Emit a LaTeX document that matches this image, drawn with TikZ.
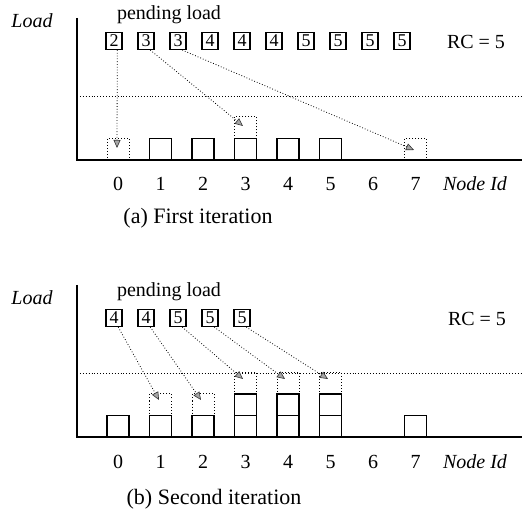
\documentclass[tikz,border=0pt]{standalone}
\usepackage{fontspec}
\setmainfont{Liberation Serif}
\usetikzlibrary{arrows.meta}
\begin{document}
\begin{tikzpicture}[x=1pt,y=-1pt,
  txt/.style={font=\fontsize{20}{24}\selectfont, inner sep=0pt},
  itxt/.style={font=\fontsize{20}{24}\selectfont\itshape, inner sep=0pt},
  captxt/.style={font=\fontsize{22}{26}\selectfont, inner sep=0pt},
  pend/.style={draw, line width=1.1pt, minimum width=16pt, minimum height=17pt, inner sep=0pt, font=\fontsize{18}{20}\selectfont},
  slot/.style={draw, line width=1.3pt, minimum width=22pt, minimum height=21.5pt, inner sep=0pt},
  newslot/.style={draw, line width=1pt, dotted, minimum width=22pt, minimum height=21.5pt, inner sep=0pt},
  axis/.style={line width=1.4pt},
  capline/.style={dotted, line width=0.9pt},
  mv/.style={dotted, line width=0.8pt, -{Triangle[length=8pt,width=7pt,fill=gray!70,color=black!80,line width=0.6pt]}}
]
\useasboundingbox (0,0) rectangle (522,510);

% ---------- panel (a) ----------
\draw[axis] (77,18) |- (522,160);
\draw[capline] (77,96) -- (522,96);
\node[itxt] (aLoad) at (32,21) {Load};
\node[txt] (aPend) at (169,15) {pending load};
\foreach \v [count=\i from 0] in {2,3,3,4,4,4,5,5,5,5}
  \node[pend] (ap\i) at ({114+32*\i},41) {\v};
\node[txt] (aRC) at (476,42) {RC = 5};
\foreach \k in {1,2,3,4,5}
  \node[slot] (a\k-1) at ({118+42.5*\k},149.25) {};
\node[newslot] (a0-1) at (118,149.25) {};
\node[newslot] (a3-2) at (245.5,127.75) {};
\node[newslot] (a7-1) at (415.5,149.25) {};
\foreach \k in {0,...,7}
  \node[txt] (aL\k) at ({118+42.5*\k},184) {\k};
\node[itxt] (aNI) at (475,184) {Node Id};
\node[captxt] (aCap) at (198,218) {(a) First iteration};
\coordinate (at0) at (117,148);
\coordinate (at1) at (243,126);
\coordinate (at2) at (414,150);
\draw[mv] (ap0.-70) -- (at0);
\draw[mv] (ap1.-65) -- (at1);
\draw[mv] (ap2.-65) -- (at2);

% ---------- panel (b) ----------
\draw[axis] (77,285) |- (522,437);
\draw[capline] (77,373) -- (522,373);
\node[itxt] (bLoad) at (32,298) {Load};
\node[txt] (bPend) at (169,292) {pending load};
\foreach \v [count=\i from 0] in {4,4,5,5,5}
  \node[pend] (bp\i) at ({114+32*\i},318) {\v};
\node[txt] (bRC) at (477,319) {RC = 5};
\foreach \k in {0,1,2,3,4,5,7}
  \node[slot] (b\k-1) at ({118+42.5*\k},426.25) {};
\foreach \k in {3,4,5}
  \node[slot] (b\k-2) at ({118+42.5*\k},404.75) {};
\foreach \k in {1,2}
  \node[newslot] (b\k-2) at ({118+42.5*\k},404.75) {};
\foreach \k in {3,4,5}
  \node[newslot] (b\k-3) at ({118+42.5*\k},383.25) {};
\foreach \k in {0,...,7}
  \node[txt] (bL\k) at ({118+42.5*\k},462) {\k};
\node[itxt] (bNI) at (475,462) {Node Id};
\node[captxt] (bCap) at (214,499) {(b) Second iteration};
\coordinate (bt0) at (159,400);
\coordinate (bt1) at (201,400);
\coordinate (bt2) at (243,379);
\coordinate (bt3) at (285,379);
\coordinate (bt4) at (328,379);
\foreach \i in {0,...,4}
  \draw[mv] (bp\i.-65) -- (bt\i);
\end{tikzpicture}
\end{document}
